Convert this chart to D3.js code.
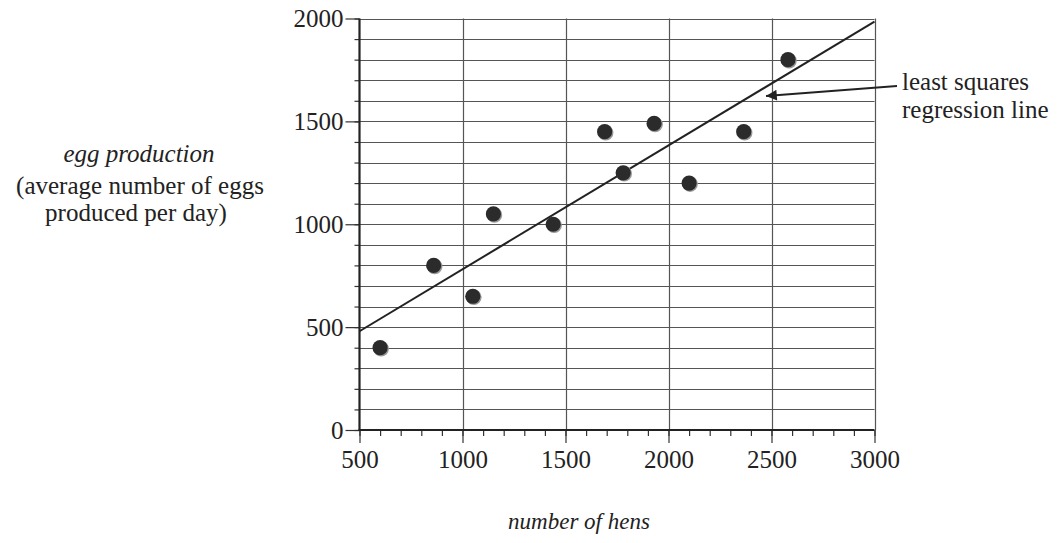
<!DOCTYPE html>
<html>
<head>
<meta charset="utf-8">
<script src="https://cdn.jsdelivr.net/npm/d3@7"></script>
<style>
  body { margin: 0; background: #fff; }
  svg text { font-family: "Liberation Serif", "Times New Roman", serif; fill: #222; }
</style>
</head>
<body>
<svg id="chart" width="1061" height="543"></svg>
<script>
// Data
var hens = [600, 860, 1050, 1150, 1440, 1690, 1780, 1930, 2100, 2365, 2580];
var eggs = [400, 800, 650, 1050, 1000, 1450, 1250, 1490, 1200, 1450, 1800];
var lineHens = [500, 3000];
var lineEggs = [480, 1985];
var xTicks = [500, 1000, 1500, 2000, 2500, 3000];
var yTicks = [0, 500, 1000, 1500, 2000];

var svg = d3.select("#chart");

// Scales
var x = d3.scaleLinear().domain([500, 3000]).range([359.5, 874.5]);
var y = d3.scaleLinear().domain([0, 2000]).range([430, 18.5]);

var minorX = d3.range(500, 3001, 100);
var minorY = d3.range(0, 2001, 100);

// Horizontal grid
svg.append("g")
  .selectAll("line")
  .data(minorY.filter(function(d) { return d > 0; }))
  .join("line")
  .attr("x1", x(500)).attr("x2", x(3000))
  .attr("y1", function(d) { return Math.round(y(d)) + 0.5; })
  .attr("y2", function(d) { return Math.round(y(d)) + 0.5; })
  .attr("stroke", "#555").attr("stroke-width", 1.2);

// Vertical grid
svg.append("g")
  .selectAll("line")
  .data(xTicks.filter(function(d) { return d > 500; }))
  .join("line")
  .attr("x1", function(d) { return Math.round(x(d)) + 0.5; })
  .attr("x2", function(d) { return Math.round(x(d)) + 0.5; })
  .attr("y1", y(0)).attr("y2", y(2000))
  .attr("stroke", "#555").attr("stroke-width", 1.2);

// Y axis
var yAxis = svg.append("g")
  .attr("transform", "translate(" + x(500) + ",0)")
  .call(d3.axisLeft(y).tickValues(minorY).tickSize(5).tickFormat(""));
yAxis.selectAll("line").attr("stroke", "#333").attr("stroke-width", 1.2);
yAxis.select(".domain").remove();

var yMajor = svg.append("g")
  .attr("transform", "translate(" + x(500) + ",0)")
  .call(d3.axisLeft(y).tickValues(yTicks).tickSize(14).tickPadding(2).tickFormat(d3.format("d")));
yMajor.select(".domain").remove();
yMajor.selectAll("line").attr("stroke", "#333").attr("stroke-width", 1.2);
yMajor.selectAll("text")
  .attr("font-family", "Liberation Serif").attr("font-size", 25).attr("fill", "#222");

// X axis
var xAxis = svg.append("g")
  .attr("transform", "translate(0," + y(0) + ")")
  .call(d3.axisBottom(x).tickValues(minorX).tickSize(6).tickFormat(""));
xAxis.selectAll("line").attr("stroke", "#333").attr("stroke-width", 1.2);
xAxis.select(".domain").remove();

var xMajor = svg.append("g")
  .attr("transform", "translate(0," + y(0) + ")")
  .call(d3.axisBottom(x).tickValues(xTicks).tickSize(13).tickPadding(7).tickFormat(d3.format("d")));
xMajor.select(".domain").remove();
xMajor.selectAll("line").attr("stroke", "#333").attr("stroke-width", 1.2);
xMajor.selectAll("text")
  .attr("font-family", "Liberation Serif").attr("font-size", 25).attr("fill", "#222");

// Axis lines
svg.append("line")
  .attr("x1", x(500)).attr("x2", x(500)).attr("y1", y(2000)).attr("y2", y(0) + 1)
  .attr("stroke", "#222").attr("stroke-width", 2.2);
svg.append("line")
  .attr("x1", x(500) - 1).attr("x2", x(3000)).attr("y1", y(0)).attr("y2", y(0))
  .attr("stroke", "#222").attr("stroke-width", 2.2);

// Regression line
svg.append("line")
  .attr("x1", x(lineHens[0])).attr("y1", y(lineEggs[0]))
  .attr("x2", x(lineHens[1])).attr("y2", y(lineEggs[1]))
  .attr("stroke", "#222").attr("stroke-width", 2);

// Points
var pts = hens.map(function(h, i) { return { h: h, e: eggs[i] }; });
svg.append("g").selectAll("circle")
  .data(pts)
  .join("circle")
  .attr("cx", function(d) { return x(d.h) + 1; })
  .attr("cy", function(d) { return y(d.e) + 1; })
  .attr("r", 7.8)
  .attr("fill", "#999");
svg.append("g").selectAll("circle")
  .data(pts)
  .join("circle")
  .attr("cx", function(d) { return x(d.h); })
  .attr("cy", function(d) { return y(d.e); })
  .attr("r", 7.6)
  .attr("fill", "#2b2b2b");

// Annotation arrow
svg.append("defs").append("marker")
  .attr("id", "arrow")
  .attr("viewBox", "0 0 10 10")
  .attr("refX", 10).attr("refY", 5)
  .attr("markerWidth", 7).attr("markerHeight", 6)
  .attr("markerUnits", "strokeWidth")
  .attr("orient", "auto")
  .append("path")
  .attr("d", "M0,0 L10,5 L0,10 Z")
  .attr("fill", "#222");

svg.append("line")
  .attr("x1", 897).attr("y1", 86)
  .attr("x2", 766).attr("y2", 96)
  .attr("stroke", "#222").attr("stroke-width", 1.8)
  .attr("marker-end", "url(#arrow)");

svg.append("text").attr("x", 902).attr("y", 90)
  .attr("font-size", 25).text("least squares");
svg.append("text").attr("x", 902).attr("y", 118)
  .attr("font-size", 25).text("regression line");

// Axis titles
svg.append("text").attr("x", 139).attr("y", 162)
  .attr("text-anchor", "middle").attr("font-size", 25)
  .attr("font-style", "italic").text("egg production");
svg.append("text").attr("x", 140).attr("y", 194)
  .attr("text-anchor", "middle").attr("font-size", 25)
  .text("(average number of eggs");
svg.append("text").attr("x", 136).attr("y", 221)
  .attr("text-anchor", "middle").attr("font-size", 25)
  .text("produced per day)");

svg.append("text").attr("x", 579).attr("y", 529)
  .attr("text-anchor", "middle").attr("font-size", 23)
  .attr("font-style", "italic").text("number of hens");
</script>
</body>
</html>
